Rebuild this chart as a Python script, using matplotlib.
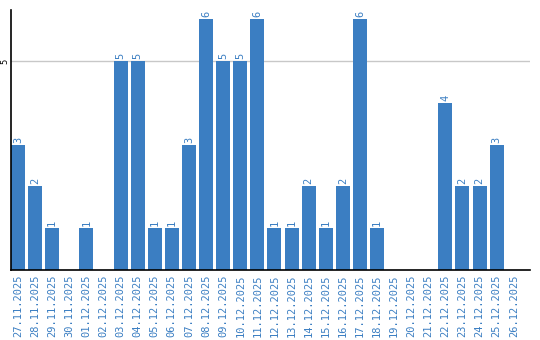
import matplotlib.pyplot as plt
import numpy as np

dates = ["27.11.2025", "28.11.2025", "29.11.2025", "30.11.2025", "01.12.2025",
         "02.12.2025", "03.12.2025", "04.12.2025", "05.12.2025", "06.12.2025",
         "07.12.2025", "08.12.2025", "09.12.2025", "10.12.2025", "11.12.2025",
         "12.12.2025", "13.12.2025", "14.12.2025", "15.12.2025", "16.12.2025",
         "17.12.2025", "18.12.2025", "19.12.2025", "20.12.2025", "21.12.2025",
         "22.12.2025", "23.12.2025", "24.12.2025", "25.12.2025", "26.12.2025"]
counts = [3, 2, 1, 0, 1, 0, 5, 5, 1, 1, 3, 6, 5, 5, 6,
          1, 1, 2, 1, 2, 6, 1, 0, 0, 0, 4, 2, 2, 3, 0]

blue = "#3b7ec2"

fig = plt.figure(figsize=(5.4, 3.4), dpi=100)
ax = fig.add_axes([11 / 540, 70 / 340, 519 / 540, 260 / 340])

x = np.arange(len(dates))
ax.bar(x, counts, width=0.82, color=blue, zorder=2)
for xi, v in zip(x, counts):
    if v > 0:
        ax.text(xi, v + 0.05, str(v), rotation=90, ha="center", va="bottom",
                color=blue, fontsize=7.5, family="DejaVu Sans Mono")

ax.set_xlim(-0.41, 29.95)
ax.set_ylim(0, 6.22)
ax.set_yticks([5])
ax.set_yticklabels(["5"], rotation=90, va="center", fontsize=6)
ax.axhline(5, color="#c8c8c8", lw=1, zorder=1)
ax.tick_params(axis="y", length=0, pad=1)
ax.set_xticks(x)
ax.set_xticklabels(dates, rotation=90, color=blue, fontsize=7.5,
                   family="DejaVu Sans Mono")
ax.tick_params(axis="x", length=0, pad=3)

for s in ["top", "right"]:
    ax.spines[s].set_visible(False)
ax.spines["left"].set_linewidth(1.2)
ax.spines["bottom"].set_linewidth(1.2)

fig.savefig("out.png", dpi=100)
